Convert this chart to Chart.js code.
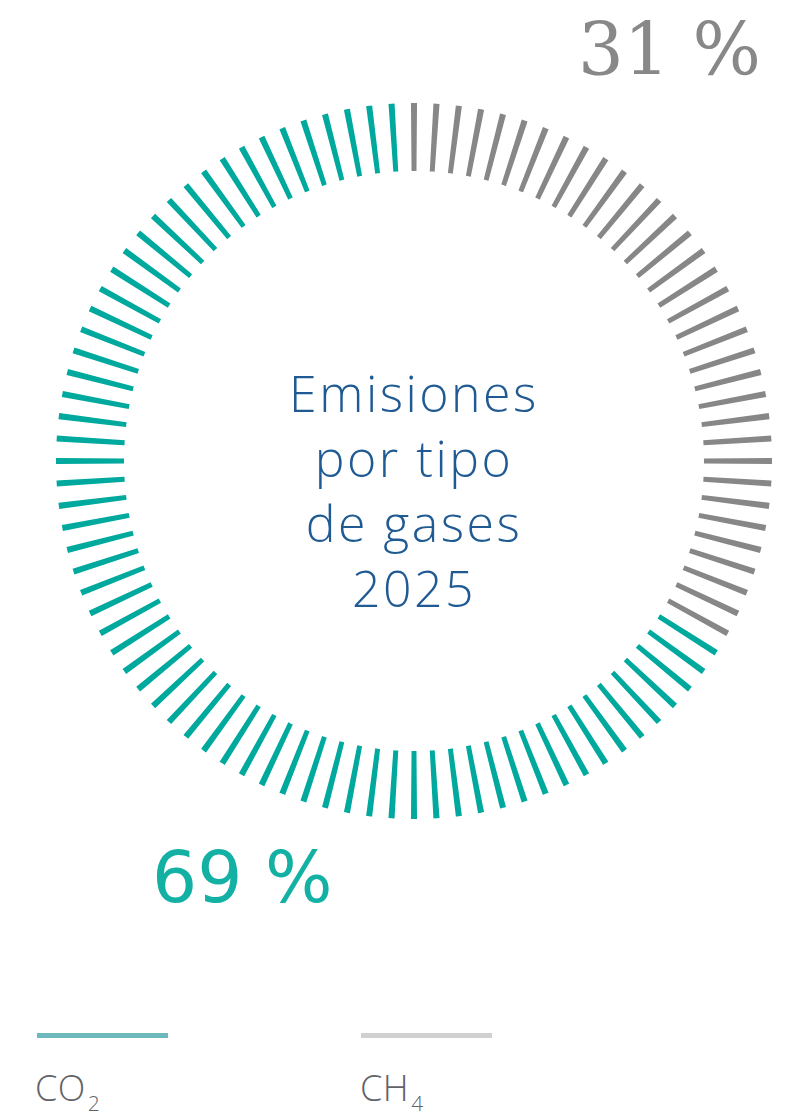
<!DOCTYPE html>
<html>
<head>
<meta charset="utf-8">
<script src="https://cdn.jsdelivr.net/npm/chart.js@4.4.1/dist/chart.umd.min.js"></script>
<style>
  html, body { margin: 0; padding: 0; background: #fff; }
  body { width: 805px; height: 1115px; position: relative; overflow: hidden; }
  #ring { position: absolute; left: 56px; top: 103px; }
  .pct { position: absolute; font-family: "DejaVu Sans", sans-serif; font-size: 72px; line-height: 72px; white-space: nowrap; }
  #pctCH4 { left: 578px; top: 14px; color: #888888; font-family: "DejaVu Serif", serif; font-weight: 300; }
  #pctCO2 { left: 152px; top: 842px; color: #13b0a4; font-size: 71px; }
  #center { position: absolute; left: 164px; width: 500px; top: 361px; text-align: center;
            font-family: "Open Sans", sans-serif; font-weight: 300; font-size: 50px; line-height: 65px;
            color: #1f5a93; letter-spacing: 2.5px; }
  .key { position: absolute; top: 1033px; width: 131px; height: 5px; }
  .keyText { position: absolute; top: 1068px; font-family: "Open Sans", sans-serif; font-weight: 300; font-size: 36px;
             color: #5f6368; line-height: 40px; letter-spacing: 0.5px; }
  .keyText sub { font-size: 21px; vertical-align: -10px; margin-left: 2px; }
</style>
</head>
<body>
<canvas id="ring" width="716" height="716"></canvas>
<div id="pctCH4" class="pct"></div>
<div id="pctCO2" class="pct"></div>
<div id="center">Emisiones<br>por tipo<br>de gases<br>2025</div>
<div class="key" id="keyCO2" style="left:37px;"></div>
<div class="keyText" id="txtCO2" style="left:35px;">CO<sub>2</sub></div>
<div class="key" id="keyCH4" style="left:361px;"></div>
<div class="keyText" id="txtCH4" style="left:360px;">CH<sub>4</sub></div>
<script>
// gases in the order they run clockwise from 12 o'clock
const gases = ['CH4', 'CO2'];
const shares = [31, 69];            // printed percentages
const tickCounts = [34, 66];        // ticks per gas as drawn on the ring
const ringColors = ['#878787', '#00a99d'];
const keyColors = ['#d0d0d0', '#6cb9bd'];

const tickPart = 0.27;              // share of each step filled by the tick

document.getElementById('pctCH4').textContent = shares[0] + ' %';
document.getElementById('pctCO2').textContent = shares[1] + ' %';
document.getElementById('keyCH4').style.background = keyColors[0];
document.getElementById('keyCO2').style.background = keyColors[1];

// each tick becomes a coloured slice followed by a transparent gap slice
const values = [];
const colors = [];
gases.forEach(function (g, i) {
    for (let k = 0; k < tickCounts[i]; k++) {
        values.push(tickPart, 1 - tickPart);
        colors.push(ringColors[i], 'rgba(0,0,0,0)');
    }
});
const totalTicks = tickCounts[0] + tickCounts[1];

const ctx = document.getElementById('ring').getContext('2d');
new Chart(ctx, {
    type: 'doughnut',
    data: {
        labels: values.map(function (v, i) { return gases[i < tickCounts[0] * 2 ? 0 : 1]; }),
        datasets: [{
            data: values,
            backgroundColor: colors,
            borderWidth: 0,
            hoverOffset: 0,
            offset: 0
        }]
    },
    options: {
        responsive: false,
        animation: false,
        events: [],
        cutout: '81%',
        rotation: -tickPart * (360 / totalTicks) / 2,
        layout: { padding: 0 },
        plugins: {
            legend: { display: false },
            tooltip: { enabled: false }
        }
    }
});
</script>
</body>
</html>
